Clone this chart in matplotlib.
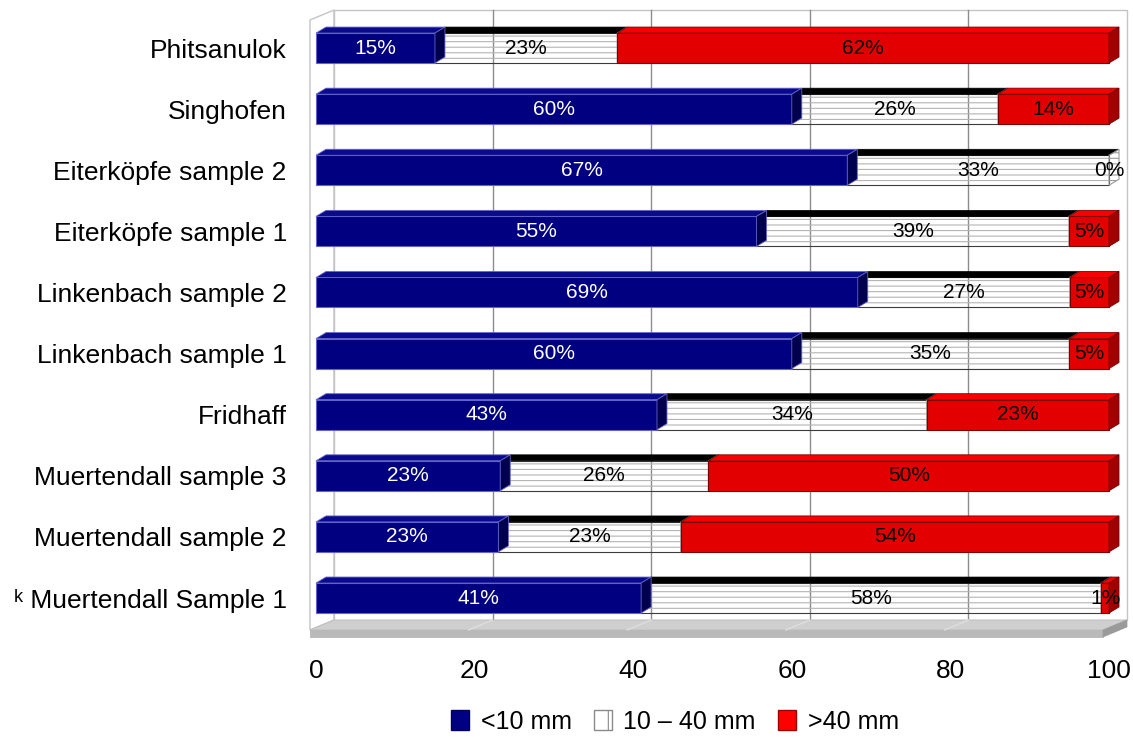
import matplotlib
matplotlib.use("Agg")
import matplotlib.pyplot as plt
from matplotlib.patches import Rectangle, Polygon, Patch

plt.rcParams['font.family'] = ['Liberation Sans', 'DejaVu Sans']
plt.rcParams['hatch.linewidth'] = 0.8

# data, bottom to top
sites = ["\u1d4f Muertendall Sample 1", "Muertendall sample 2", "Muertendall sample 3",
         "Fridhaff", "Linkenbach sample 1", "Linkenbach sample 2",
         "Eiterköpfe sample 1", "Eiterköpfe sample 2", "Singhofen", "Phitsanulok"]
fine = [41, 23, 23, 43, 60, 69, 55, 67, 60, 15]      # <10 mm
medium = [58, 23, 26, 34, 35, 27, 39, 33, 26, 23]    # 10 - 40 mm
coarse = [1, 54, 50, 23, 5, 5, 5, 0, 14, 62]         # >40 mm
ticks = [0, 20, 40, 60, 80, 100]
legend_labels = ["<10 mm", "10 \u2013 40 mm", ">40 mm"]

W, H = 1133, 737
fig = plt.figure(figsize=(W / 100, H / 100), dpi=100)
ax_left, ax_right, ax_top, ax_bot = 316, 1109, 0, 637
ax = fig.add_axes([ax_left / W, (H - ax_bot) / H, (ax_right - ax_left) / W, (ax_bot - ax_top) / H])

ylo, yhi = -0.638, 9.786
ax.set_xlim(0, 100)
ax.set_ylim(ylo, yhi)
sx = (ax_right - ax_left) / 100.0          # px per x unit
sy = (ax_bot - ax_top) / (yhi - ylo)       # px per y unit

# 3d offsets (pixels -> data)
bdx, bdy = 10 / sx, 6 / sy                 # bar depth
wx0 = -6 / sx                              # wall front plane
wdx, wdy = 24 / sx, 10 / sy                # wall depth
floor_top = ylo + 7 / sy
wall_top = yhi - 20 / sy


def poly(pts, **kw):
    p = Polygon(pts, closed=True, clip_on=False, **kw)
    ax.add_patch(p)
    return p


# left wall
poly([(wx0, floor_top), (wx0 + wdx, floor_top + wdy), (wx0 + wdx, wall_top + wdy), (wx0, wall_top)],
     facecolor='white', edgecolor='#c4c4c4', lw=1.0, zorder=1)
# back wall
bx0, by0, by1 = wx0 + wdx, floor_top + wdy, wall_top + wdy
ax.add_patch(Rectangle((bx0, by0), 100, by1 - by0, facecolor='white', edgecolor='#c4c4c4',
                       lw=1.0, clip_on=False, zorder=1))
for t in ticks[1:-1]:
    ax.plot([bx0 + t, bx0 + t], [by0, by1], color='#8c8c8c', lw=1.0, zorder=2, clip_on=False)

# floor
poly([(wx0, floor_top), (wx0 + 100, floor_top), (wx0 + 100 + wdx, floor_top + wdy), (wx0 + wdx, floor_top + wdy)],
     facecolor='#cfcfcf', edgecolor='#bdbdbd', lw=0.6, zorder=2)
poly([(wx0, ylo), (wx0 + 100, ylo), (wx0 + 100, floor_top), (wx0, floor_top)],
     facecolor='#b9b9b9', edgecolor='#b0b0b0', lw=0.5, zorder=2)
poly([(wx0 + 100, ylo), (wx0 + 100 + wdx, ylo + wdy), (wx0 + 100 + wdx, floor_top + wdy), (wx0 + 100, floor_top)],
     facecolor='#9a9a9a', edgecolor='#9a9a9a', lw=0.5, zorder=2)
for t in ticks[1:-1]:
    ax.plot([wx0 + t, wx0 + t + wdx], [floor_top, floor_top + wdy], color='#dedede', lw=1.0,
            zorder=2.5, clip_on=False)

bh = 0.49
styles = {
    'fine': dict(front='#000080', top='#0a0a8c', side='#00004e', edge='#6464c8', text='white'),
    'coarse': dict(front='#e30000', top='#f80000', side='#a20000', edge='#7a0000', text='black'),
}


def box(x0, x1, y, st, z):
    b, t = y - bh / 2, y + bh / 2
    ax.add_patch(Rectangle((x0, b), x1 - x0, bh, facecolor=st['front'], edgecolor=st['edge'],
                           lw=0.8, zorder=z, clip_on=False))
    poly([(x0, t), (x1, t), (x1 + bdx, t + bdy), (x0 + bdx, t + bdy)],
         facecolor=st['top'], edgecolor=st['edge'], lw=0.6, zorder=z)
    poly([(x1, b), (x1, t), (x1 + bdx, t + bdy), (x1 + bdx, b + bdy)],
         facecolor=st['side'], edgecolor=st['edge'], lw=0.6, zorder=z)


for i, name in enumerate(sites):
    total = fine[i] + medium[i] + coarse[i]
    f = fine[i] / total * 100
    m = medium[i] / total * 100
    b, t = i - bh / 2, i + bh / 2
    z = 10 + (len(sites) - i) * 0.1
    # medium segment: see-through front with grey lines, black top
    ax.add_patch(Rectangle((f, b), m, bh, facecolor='none', edgecolor='#b4b4b4', hatch='---',
                           lw=0, zorder=z, clip_on=False))
    ax.add_patch(Rectangle((f, b), m, bh, fill=False, edgecolor='#3c3c3c', lw=0.8, zorder=z, clip_on=False))
    poly([(f, t), (f + m, t), (f + m + bdx, t + bdy), (f + bdx, t + bdy)],
         facecolor='black', edgecolor='black', lw=0.5, zorder=z)
    poly([(f + m, b), (f + m, t), (f + m + bdx, t + bdy), (f + m + bdx, b + bdy)],
         facecolor='none', edgecolor='#9a9a9a', hatch='---', lw=0.8, zorder=z)
    box(0, f, i, styles['fine'], z + 0.02)
    if coarse[i] > 0:
        box(f + m, 100, i, styles['coarse'], z + 0.03)
    kw = dict(ha='center', va='center', fontsize=15, zorder=30, clip_on=False)
    ax.text(f / 2, i, f"{fine[i]}%", color='white', **kw)
    ax.text(f + m / 2, i, f"{medium[i]}%", color='black', **kw)
    ax.text(f + m + (100 - f - m) / 2, i, f"{coarse[i]}%", color='black', **kw)

ax.set_xticks(ticks)
ax.set_xticklabels([str(t) for t in ticks], fontsize=19)
ax.set_yticks(range(len(sites)))
ax.set_yticklabels(sites, fontsize=19)
ax.tick_params(axis='x', length=0, pad=16)
ax.tick_params(axis='y', length=0, pad=21)
for s in ax.spines.values():
    s.set_visible(False)
ax.patch.set_visible(False)

handles = [Patch(facecolor='#000080', edgecolor='#000060'),
           Patch(facecolor='white', edgecolor='#8a8a8a', hatch='|'),
           Patch(facecolor='#ff0000', edgecolor='#a00000')]
fig.legend(handles, legend_labels, loc='center', bbox_to_anchor=(675 / W, 1 - 722 / H), ncol=3,
           frameon=False, fontsize=18, handlelength=0.72, handleheight=0.85, handletextpad=0.45,
           columnspacing=0.9)

fig.savefig("out.png", dpi=100)
